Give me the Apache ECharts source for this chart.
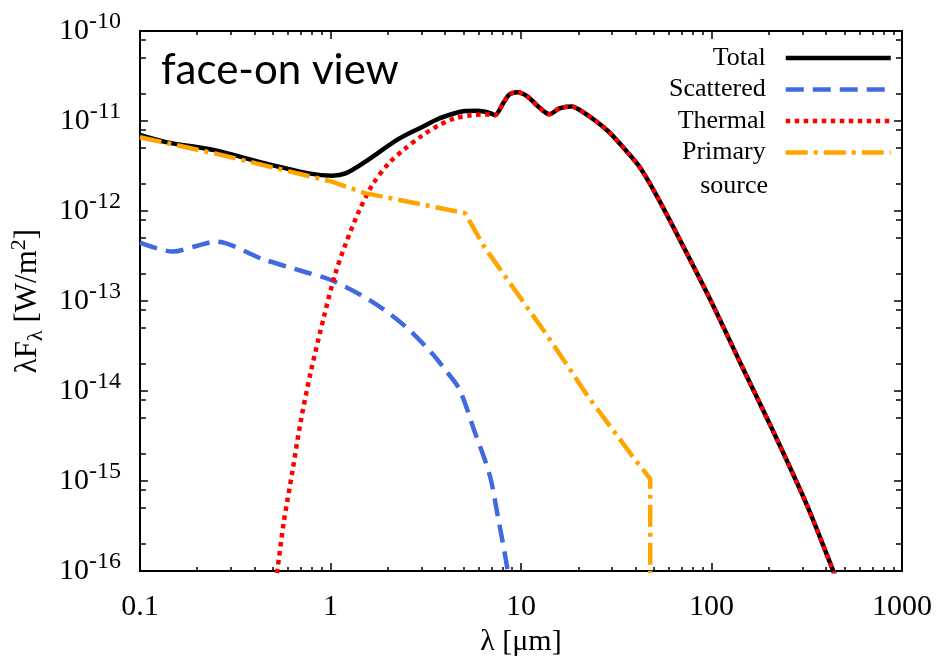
<!DOCTYPE html>
<html><head><meta charset="utf-8">
<script src="https://cdn.jsdelivr.net/npm/echarts@6/dist/echarts.min.js"></script>
<style>html,body{margin:0;padding:0;background:#fff}#c{width:943px;height:662px}</style>
</head><body><div id="c"></div>
<script>
// wavelength [um] and lambda*F_lambda [W/m^2]
const totalX = [0.1,0.137,0.25,0.457,0.77,1.02,1.2,1.52,2.28,3.03,3.69,4.49,5.08,5.8,6.5,7.0,7.3,8.1,8.7,9.58,10.8,12.5,14.1,15.9,18.3,21.4,28.5,36.2,42.6,53.1,74.7,98.9,142,212,317,436,480];
const totalY = [7.0e-12,5.83e-12,4.72e-12,3.37e-12,2.62e-12,2.47e-12,2.62e-12,3.52e-12,6.34e-12,8.6e-12,1.06e-11,1.22e-11,1.29e-11,1.3e-11,1.27e-11,1.21e-11,1.16e-11,1.6e-11,1.97e-11,2.09e-11,1.88e-11,1.41e-11,1.19e-11,1.38e-11,1.45e-11,1.24e-11,7.8e-12,4.5e-12,2.95e-12,1.32e-12,3.3e-13,1.02e-13,2.04e-14,3.48e-15,5.4e-16,1.0e-16,6e-17];

const scatteredX = [0.1,0.149,0.198,0.25,0.442,0.743,1.02,1.66,2.48,3.41,3.99,4.75,5.73,6.86,7.59,8.49,8.7];
const scatteredY = [4.45e-13,3.55e-13,4.09e-13,4.57e-13,2.92e-13,2.09e-13,1.69e-13,9.8e-14,5.2e-14,2.63e-14,1.74e-14,1.05e-14,3.48e-15,1.16e-15,3.9e-16,1.05e-16,6e-17];

const thermalX = [0.51,0.526,0.570,0.631,0.697,0.786,0.924,1.06,1.2,1.41,1.66,2.02,2.46,3.03,3.69,4.49,5.51,6.5,7.0,7.3,8.1,8.7,9.58,10.8,12.5,14.1,15.9,18.3,21.4,28.5,36.2,42.6,53.1,74.7,98.9,142,212,317,436,480];
const thermalY = [6e-17,1.0e-16,3.57e-16,1.26e-15,4.49e-15,1.58e-14,6.67e-14,2.0e-13,4.27e-13,9.9e-13,1.95e-12,3.37e-12,4.92e-12,6.9e-12,8.9e-12,1.07e-11,1.16e-11,1.18e-11,1.18e-11,1.16e-11,1.6e-11,1.97e-11,2.09e-11,1.88e-11,1.41e-11,1.19e-11,1.38e-11,1.45e-11,1.24e-11,7.8e-12,4.5e-12,2.95e-12,1.32e-12,3.3e-13,1.02e-13,2.04e-14,3.48e-15,5.4e-16,1.0e-16,6e-17];

const primaryX = [0.1,0.25,1.02,1.52,5.08,6.46,8.56,13.9,22.4,39.3,45.3,47.7,47.7];
const primaryY = [6.6e-12,4.34e-12,2.12e-12,1.58e-12,9.5e-13,3.92e-13,1.69e-13,4.0e-14,8.8e-15,1.78e-15,1.22e-15,1.05e-15,1e-17];

const seriesNames = ['Total','Scattered','Thermal','Primary source'];
const xMajorTicks = [0.1,1,10,100,1000];
const xMinorTicks = [0.2,0.3,0.4,0.5,0.6,0.7,0.8,0.9,2,3,4,5,6,7,8,9,20,30,40,50,60,70,80,90,200,300,400,500,600,700,800,900];
const yMajorTicks = [1e-16,1e-15,1e-14,1e-13,1e-12,1e-11,1e-10];
const yMinorTicks = [2e-16,5e-16,8e-16,2e-15,5e-15,8e-15,2e-14,5e-14,8e-14,2e-13,5e-13,8e-13,2e-12,5e-12,8e-12,2e-11,5e-11,8e-11];

const SERIF = '"Liberation Serif","Times New Roman",serif';
const pair = (xs, ys) => xs.map((x, i) => [x, ys[i]]);

const chart = echarts.init(document.getElementById('c'), null, {renderer: 'canvas'});

function xAx(pos, major, showLabel) {
  return {
    type: 'log', logBase: 10, min: 0.1, max: 1000, position: pos,
    axisLine: {show: major, lineStyle: {color: '#000', width: 2}},
    axisTick: {show: true, inside: true, length: major ? 8 : 4,
      customValues: major ? xMajorTicks : xMinorTicks,
      lineStyle: {color: '#000', width: 1.5}},
    axisLabel: {show: showLabel, customValues: xMajorTicks, margin: 21,
      fontFamily: SERIF, fontSize: 30, color: '#000',
      formatter: v => String(v)},
    splitLine: {show: false}, minorTick: {show: false}
  };
}
function yAx(pos, major, showLabel) {
  return {
    type: 'log', logBase: 10, min: 1e-16, max: 1e-10, position: pos,
    axisLine: {show: major, lineStyle: {color: '#000', width: 2}},
    axisTick: {show: true, inside: true, length: major ? 8 : 6,
      customValues: major ? yMajorTicks : yMinorTicks,
      lineStyle: {color: '#000', width: 1.5}},
    axisLabel: {show: showLabel, customValues: yMajorTicks, margin: 19,
      color: '#000',
      formatter: v => '{b|10}{s|' + Math.round(Math.log10(v)) + '}',
      rich: {
        b: {fontFamily: SERIF, fontSize: 30, lineHeight: 30, verticalAlign: 'middle', color: '#000'},
        s: {fontFamily: SERIF, fontSize: 24, lineHeight: 24, padding: [0, 0, 18, 0], verticalAlign: 'middle', color: '#000'}
      }},
    splitLine: {show: false}, minorTick: {show: false}
  };
}

const xAxes = [xAx('bottom', true, true), xAx('bottom', false, false), xAx('top', true, false), xAx('top', false, false)];
xAxes[0].name = 'λ [μm]';
xAxes[0].nameLocation = 'middle';
xAxes[0].nameGap = 54;
xAxes[0].nameTextStyle = {fontFamily: SERIF, fontSize: 30, color: '#000'};

const yAxes = [yAx('left', true, true), yAx('left', false, false), yAx('right', true, false), yAx('right', false, false)];
yAxes[0].name = '{a|λF}{sub|λ}{a| [W/m}{sup|2}{a|]}';
yAxes[0].nameLocation = 'middle';
yAxes[0].nameRotate = 90;
yAxes[0].nameGap = 94;
yAxes[0].nameTextStyle = {
  color: '#000',
  rich: {
    a: {fontFamily: SERIF, fontSize: 31, lineHeight: 31, verticalAlign: 'middle', color: '#000'},
    sub: {fontFamily: SERIF, fontSize: 22, lineHeight: 22, padding: [16, 0, 0, 0], verticalAlign: 'middle', color: '#000'},
    sup: {fontFamily: SERIF, fontSize: 22, lineHeight: 22, padding: [0, 0, 18, 0], verticalAlign: 'middle', color: '#000'}
  }
};

const option = {
  animation: false,
  backgroundColor: '#fff',
  grid: {left: 137, right: 41, top: 31, bottom: 85, containLabel: false},
  xAxis: xAxes,
  yAxis: yAxes,
  legend: {
    data: seriesNames,
    orient: 'vertical', right: 50, top: 44, align: 'right', padding: 0,
    itemWidth: 105, itemHeight: 14, itemGap: 3.5,
    itemStyle: {opacity: 0},
    lineStyle: {width: 4.5},
    formatter: n => n === 'Primary source' ? 'Primary' : n,
    textStyle: {fontFamily: SERIF, fontSize: 26, lineHeight: 28, color: '#000', padding: [0, 15, 0, 0]}
  },
  graphic: [
    {type: 'text', left: 161, top: 49, style: {text: 'face-on view', font: '42px Lato', fill: '#000'}},
    {type: 'text', right: 175, top: 173, style: {text: 'source', font: '26px "Liberation Serif"', fill: '#000'}}
  ],
  series: [
    {name: 'Total', type: 'line', data: pair(totalX, totalY), symbol: 'none', smooth: 0.3,
      lineStyle: {color: '#000', width: 4.5}, itemStyle: {color: '#000'}},
    {name: 'Scattered', type: 'line', data: pair(scatteredX, scatteredY), symbol: 'none', smooth: 0.3,
      lineStyle: {color: '#4169E1', width: 4.5, type: [18, 9]}, itemStyle: {color: '#4169E1'}},
    {name: 'Thermal', type: 'line', data: pair(thermalX, thermalY), symbol: 'none', smooth: 0.3,
      lineStyle: {color: '#FF0000', width: 4.5, type: [4.5, 4.5]}, itemStyle: {color: '#FF0000'}},
    {name: 'Primary source', type: 'line', data: pair(primaryX, primaryY), symbol: 'none',
      lineStyle: {color: '#FFA500', width: 4.5, type: [22, 6, 4, 6]}, itemStyle: {color: '#FFA500'}}
  ]
};
chart.setOption(option);
</script></body></html>
